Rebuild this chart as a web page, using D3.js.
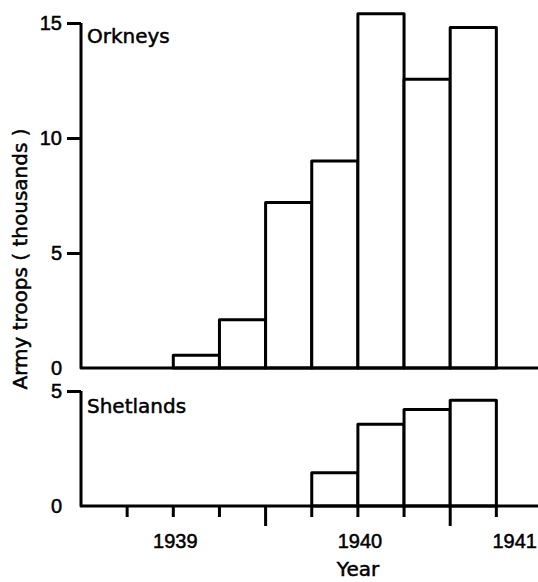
<!DOCTYPE html>
<html>
<head>
<meta charset="utf-8">
<script src="https://cdn.jsdelivr.net/npm/d3@7"></script>
<style>
  html, body { margin: 0; padding: 0; background: #fff; }
  svg { display: block; }
  svg text { stroke: #000; stroke-width: 0.5px; }
</style>
</head>
<body>
<svg id="chart" width="538" height="582"></svg>
<script>
// ---- data ----
const quarterWidth = 0.25;
const orkneyStart = [1939.0, 1939.25, 1939.5, 1939.75, 1940.0, 1940.25, 1940.5];
const orkneyTroops = [0.55, 2.1, 7.2, 9.0, 15.4, 12.55, 14.8];
const shetlandStart = [1939.75, 1940.0, 1940.25, 1940.5];
const shetlandTroops = [1.45, 3.55, 4.2, 4.6];
const orkneyYTicks = [0, 5, 10, 15];
const shetlandYTicks = [0, 5];
const xTicks = [1938.75, 1939, 1939.25, 1939.5, 1939.75, 1940, 1940.25, 1940.5, 1940.75];
const xLongTicks = [1939.5, 1940.5];
const yearLabels = [1939, 1940, 1941];

const svg = d3.select("#chart");
const INK = "#000";
const numFont = "'Liberation Sans', Arial, sans-serif";
const txtFont = "'DejaVu Sans', sans-serif";

const x = d3.scaleLinear().domain([1938.5, 1941]).range([81, 542.5]);
const yTop = d3.scaleLinear().domain([0, 15]).range([368, 23]);
const yBot = d3.scaleLinear().domain([0, 5]).range([506, 391]);

function panel(yScale, starts, values, yTicks, label, labelY) {
  const g = svg.append("g");
  // bars
  g.selectAll("rect.bar")
    .data(starts.map((s, i) => ({ s, v: values[i] })))
    .join("rect")
    .attr("class", "bar")
    .attr("x", d => x(d.s))
    .attr("width", d => x(d.s + quarterWidth) - x(d.s))
    .attr("y", d => yScale(d.v))
    .attr("height", d => yScale(0) - yScale(d.v))
    .attr("fill", "#fff")
    .attr("stroke", INK)
    .attr("stroke-width", 3)
    .attr("stroke-linejoin", "round");

  // y axis
  const ax = g.append("g")
    .attr("transform", `translate(${x(1938.5)},0)`)
    .call(d3.axisLeft(yScale).tickValues(yTicks).tickSize(14).tickSizeOuter(0).tickPadding(5).tickFormat(d3.format("d")));
  ax.select(".domain").remove();
  ax.selectAll(".tick line").attr("stroke", INK).attr("stroke-width", 3)
    .attr("display", d => d === 0 ? "none" : null);
  ax.selectAll(".tick text").attr("font-family", numFont).attr("font-size", 20).attr("fill", INK);

  // axis lines
  const y0 = yScale(0), y1 = yScale(yTicks[yTicks.length - 1]);
  g.append("path")
    .attr("d", `M${x(1938.5)},${y1} L${x(1938.5)},${y0} L${x(1941)},${y0}`)
    .attr("fill", "none").attr("stroke", INK).attr("stroke-width", 3)
    .attr("stroke-linejoin", "round");

  g.append("text")
    .attr("x", x(1938.5) + 6).attr("y", labelY)
    .attr("font-family", txtFont).attr("font-size", 20).attr("fill", INK)
    .text(label);
  return g;
}

panel(yTop, orkneyStart, orkneyTroops, orkneyYTicks, "Orkneys", 43);
panel(yBot, shetlandStart, shetlandTroops, shetlandYTicks, "Shetlands", 413);

// bottom x ticks
svg.append("g").selectAll("line")
  .data(xTicks)
  .join("line")
  .attr("x1", d => x(d)).attr("x2", d => x(d))
  .attr("y1", yBot(0))
  .attr("y2", d => yBot(0) + (xLongTicks.includes(d) ? 20 : 11))
  .attr("stroke", INK).attr("stroke-width", 3);

// year labels
svg.append("g").selectAll("text")
  .data(yearLabels)
  .join("text")
  .attr("x", d => d === 1941 ? 537 : x(d) + 2)
  .attr("y", 548)
  .attr("text-anchor", d => d === 1941 ? "end" : "middle")
  .attr("font-family", numFont).attr("font-size", 20).attr("fill", INK)
  .text(d => d);

// axis titles
svg.append("text")
  .attr("x", 358).attr("y", 576)
  .attr("text-anchor", "middle")
  .attr("font-family", txtFont).attr("font-size", 20).attr("fill", INK)
  .text("Year");

svg.append("text")
  .attr("transform", "translate(27,259) rotate(-90)")
  .attr("text-anchor", "middle")
  .attr("font-family", txtFont).attr("font-size", 20).attr("fill", INK)
  .text("Army troops ( thousands )");
</script>
</body>
</html>
